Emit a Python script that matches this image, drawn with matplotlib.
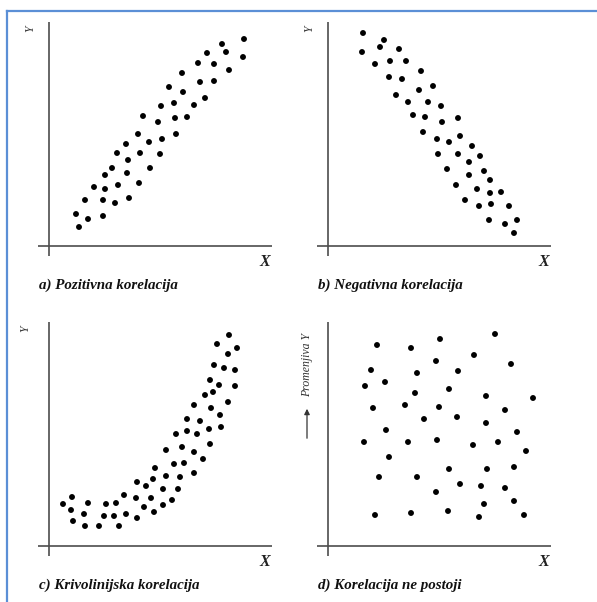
import matplotlib
matplotlib.use("Agg")
import matplotlib.pyplot as plt
from matplotlib.lines import Line2D

# ---- data (units: arbitrary, origin at axis crossing)
pos_x = [195, 173, 177, 158, 194, 149, 165, 180, 133, 151, 165, 120, 134, 156, 112, 125,
         145, 94, 109, 126, 138, 89, 100, 113, 127, 77, 68, 91, 111, 79, 101, 63, 56, 78,
         45, 56, 69, 90, 36, 54, 66, 80, 27, 39, 54, 30]
pos_y = [207, 202, 194, 193, 189, 183, 182, 176, 173, 164, 165, 159, 154, 148, 140, 143,
         141, 130, 124, 128, 129, 112, 104, 107, 112, 102, 93, 93, 92, 86, 78, 78, 71, 73,
         59, 57, 61, 63, 46, 46, 43, 48, 32, 27, 30, 19]

neg_x = [35, 34, 56, 52, 71, 47, 62, 78, 93, 61, 74, 91, 105, 68, 80, 100, 113, 85, 97,
         114, 130, 95, 132, 109, 121, 144, 110, 130, 152, 141, 119, 141, 156, 162, 128,
         149, 162, 173, 137, 151, 163, 181, 161, 177, 189, 186]
neg_y = [213, 194, 206, 199, 197, 182, 185, 185, 175, 169, 167, 156, 160, 151, 144, 144,
         140, 131, 129, 124, 128, 114, 110, 107, 104, 100, 92, 92, 90, 84, 77, 71, 75, 66,
         61, 57, 53, 54, 46, 40, 42, 40, 26, 22, 26, 13]

curve_x = [180, 168, 188, 179, 165, 175, 186, 161, 170, 186, 156, 164, 145, 162, 179, 138,
           151, 171, 127, 138, 148, 160, 172, 133, 161, 117, 145, 154, 125, 135, 106, 117,
           131, 145, 88, 97, 104, 114, 129, 75, 87, 102, 123, 14, 23, 39, 57, 67, 22, 35,
           77, 95, 105, 114, 55, 65, 24, 36, 50, 70, 88]
curve_y = [211, 202, 198, 192, 181, 178, 176, 166, 161, 160, 151, 154, 141, 138, 144, 127,
           125, 131, 112, 115, 112, 117, 119, 99, 102, 96, 94, 87, 82, 83, 78, 70, 69, 73,
           64, 60, 67, 57, 57, 51, 48, 48, 46, 42, 49, 43, 42, 43, 36, 32, 32, 39, 34, 41,
           30, 30, 25, 20, 20, 20, 28]

none_x = [167, 49, 83, 112, 146, 108, 183, 43, 89, 130, 57, 37, 87, 121, 158, 205, 45, 77,
          111, 177, 96, 129, 158, 58, 189, 36, 80, 109, 145, 170, 198, 61, 121, 159, 186,
          51, 89, 132, 153, 177, 108, 156, 186, 47, 83, 120, 151, 196]
none_y = [212, 201, 198, 207, 191, 185, 182, 176, 173, 175, 164, 160, 153, 157, 150, 148,
          138, 141, 139, 136, 127, 129, 123, 116, 114, 104, 104, 106, 101, 104, 95, 89, 77,
          77, 79, 69, 69, 62, 60, 58, 54, 42, 45, 31, 33, 35, 29, 31]

captions = ["a) Pozitivna korelacija", "b) Negativna korelacija",
            "c) Krivolinijska korelacija", "d) Korelacija ne postoji"]
y_labels = ["Y", "Y", "Y", "Promenjiva Y"]
x_label = "X"

W, H = 597, 602
fig = plt.figure(figsize=(W / 100, H / 100), dpi=100)
fig.patch.set_facecolor("white")

# panel origins in figure pixels (x from left, y from top)
origins = [(49, 246), (328, 246), (49, 546), (328, 546)]
series = [(pos_x, pos_y), (neg_x, neg_y), (curve_x, curve_y), (none_x, none_y)]

XMIN, XMAX, YMIN, YMAX = -45, 240, -50, 235
serif = ["Liberation Serif", "DejaVu Serif"]
axis_col = "#4d4d4d"

for i, ((ox, oy), (xs, ys)) in enumerate(zip(origins, series)):
    left = (ox + XMIN) / W
    bottom = (H - oy + YMIN) / H
    ax = fig.add_axes([left, bottom, (XMAX - XMIN) / W, (YMAX - YMIN) / H])
    ax.set_xlim(XMIN, XMAX)
    ax.set_ylim(YMIN, YMAX)
    ax.axis("off")
    ax.patch.set_alpha(0)
    # axis lines
    ax.plot([-11, 223], [0, 0], color=axis_col, lw=1.2, solid_capstyle="butt")
    ax.plot([0, 0], [-10, 224], color=axis_col, lw=1.2, solid_capstyle="butt")
    ax.scatter(xs, ys, s=18, color="black", edgecolors="none", zorder=3)
    ax.text(216, -16, x_label, ha="center", va="center", fontsize=11.5,
            family=serif, style="italic", weight="bold", color="#222222")
    ax.text(-10, -39, captions[i], ha="left", va="center", fontsize=10.8,
            family=serif, style="italic", weight="bold", color="#111111")
    if i < 3:
        ax.text(-19 if i != 2 else -24, 217, y_labels[i], ha="center", va="center",
                fontsize=8.5, family=serif, style="italic", rotation=90, color="#333333")
    else:
        ax.text(-21, 181, y_labels[i], ha="center", va="center", fontsize=8.5,
                family=serif, style="italic", rotation=90, color="#333333")
        ax.annotate("", xy=(-21, 140), xytext=(-21, 105),
                    arrowprops=dict(arrowstyle="-|>", color="#333333", lw=0.9,
                                    mutation_scale=8))

# blue frame (left and top edges only)
fig.add_artist(Line2D([7 / W, 7 / W], [0, 1 - 11 / H], color="#5b8fd6", lw=1.6,
                      transform=fig.transFigure))
fig.add_artist(Line2D([7 / W, 1], [1 - 11 / H, 1 - 11 / H], color="#5b8fd6", lw=1.6,
                      transform=fig.transFigure))

fig.savefig("out.png", dpi=100)
